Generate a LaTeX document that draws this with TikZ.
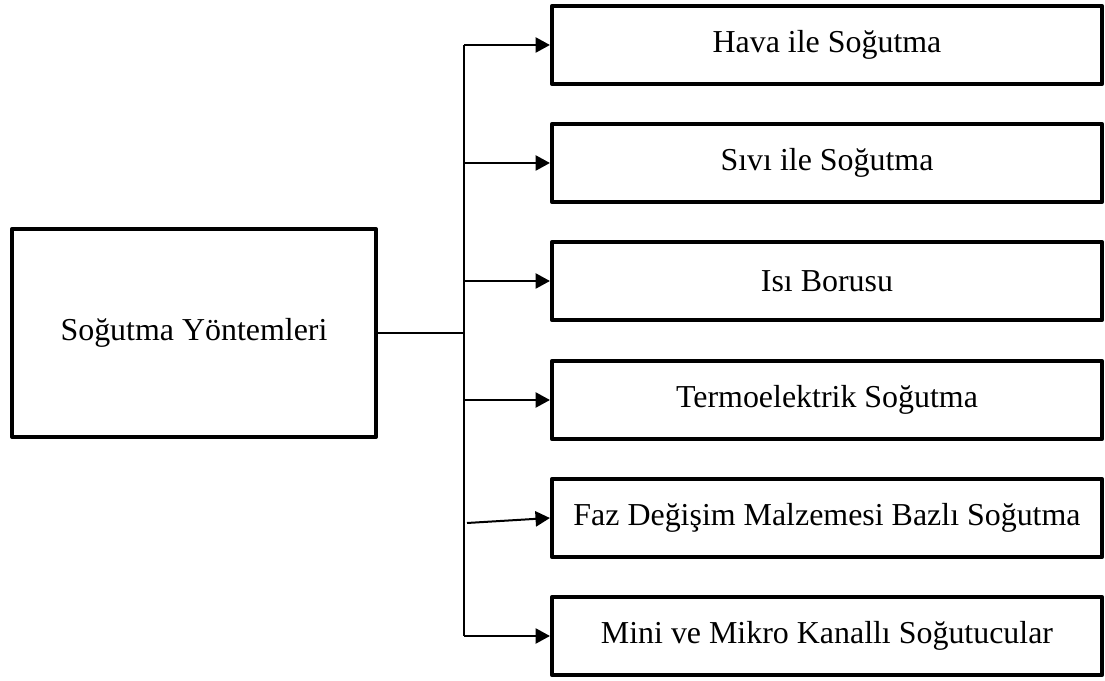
\documentclass[tikz,border=0pt]{standalone}
\usepackage{fontspec}
\setmainfont{Liberation Serif}
\usetikzlibrary{arrows.meta}

\tikzset{
	anakutu/.style={draw, line width=0.1cm, line join=round, minimum width=9.1cm, minimum height=5.2cm, inner sep=0pt},
	yontem/.style={draw, line width=0.1cm, line join=round, minimum width=13.75cm, minimum height=1.95cm, inner sep=0pt},
	hat/.style={line width=0.05cm},
	ok/.style={hat, -{Triangle[length=0.36cm,width=0.38cm]}},
}

\begin{document}
\begin{tikzpicture}[x=0.025cm, y=-0.025cm, font=\fontsize{22.7}{27}\selectfont]
		\useasboundingbox (0,0) rectangle (1105,681);
		% ana kutu
		\node[anakutu] (ana) at (194,333) {Soğutma Yöntemleri};
		% yöntemler
		\node[yontem] (hava) at (827,45) {Hava ile Soğutma};
		\node[yontem] (sivi) at (827,163) {Sıvı ile Soğutma};
		\node[yontem] (isi) at (827,281) {Isı Borusu};
		\node[yontem] (termo) at (827,400) {Termoelektrik Soğutma};
		\node[yontem] (faz) at (827,518) {Faz Değişim Malzemesi Bazlı Soğutma};
		\node[yontem] (mini) at (827,636) {Mini ve Mikro Kanallı Soğutucular};
		% gövde
		\coordinate (ust) at (464,45);
		\coordinate (alt) at (mini.west -| ust);
		\coordinate (faz sol) at (467,523);
		\draw[hat] (ana.east) -- (ana.east -| ust);
		\draw[hat] (ust) -- (alt);
		% oklar
		\draw[ok] (ust) -- (hava.west);
		\draw[ok] (sivi.west -| ust) -- (sivi.west);
		\draw[ok] (isi.west -| ust) -- (isi.west);
		\draw[ok] (termo.west -| ust) -- (termo.west);
		\draw[ok] (faz sol) -- (faz.west);
		\draw[ok] (alt) -- (mini.west);
	\end{tikzpicture}
\end{document}
